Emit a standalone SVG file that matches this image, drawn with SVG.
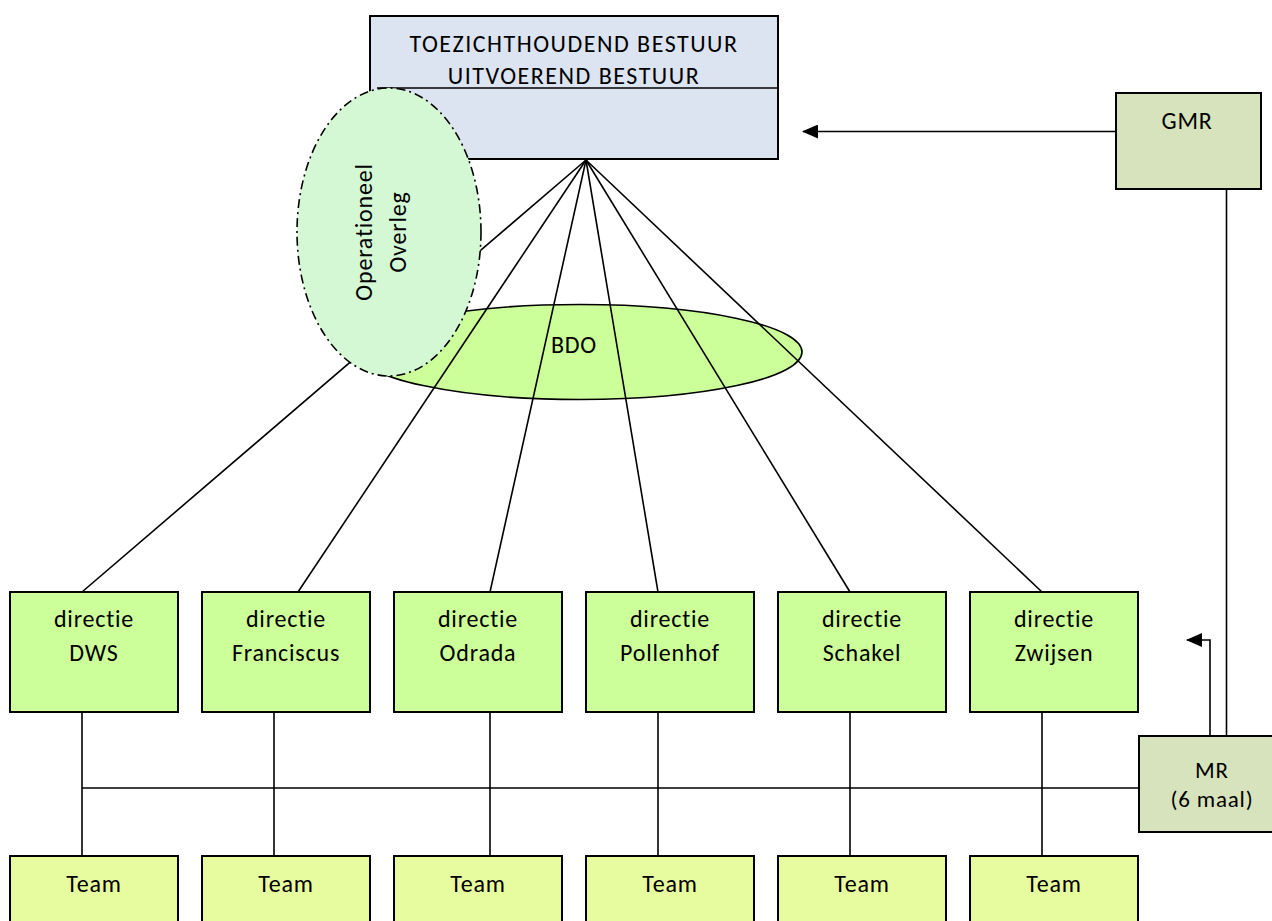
<svg xmlns="http://www.w3.org/2000/svg" width="1272" height="921" viewBox="0 0 1272 921">
<defs>
<style>
text{font-family:Carlito,Lato,"Liberation Sans",sans-serif;font-size:24px;letter-spacing:0.8px;font-variant-ligatures:none;fill:#000;text-anchor:middle}
.title{letter-spacing:1.5px}
.small{font-size:23px}
.box{stroke:#000;stroke-width:2}
.dir{fill:#ccff99}
.team{fill:#e6fc9f}
.mr{fill:#d6e3bc}
.conn{stroke:#000;stroke-width:1.6;fill:none}
</style>
<marker id="arr" viewBox="0 0 16 14" refX="15" refY="7" markerWidth="16" markerHeight="14" markerUnits="userSpaceOnUse" orient="auto">
<path d="M0,0 L16,7 L0,14 z" fill="#000"/>
</marker>
</defs>
<rect width="1272" height="921" fill="#fff"/>

<g id="bestuur">
<rect class="box" x="370" y="16" width="408" height="143" fill="#dbe4f0"/>
<line x1="377" y1="88" x2="778" y2="88" stroke="#000" stroke-width="1.6"/>
<text class="title" x="574" y="52">TOEZICHTHOUDEND BESTUUR</text>
<text class="title" x="574" y="84">UITVOEREND BESTUUR</text>
</g>

<g id="bdo">
<ellipse cx="580" cy="352" rx="222" ry="47.5" fill="#ccff99" stroke="#000" stroke-width="1.6"/>
<text x="574" y="353">BDO</text>
</g>

<g id="connectors">
<line class="conn" x1="586" y1="160" x2="82" y2="592"/>
<line class="conn" x1="586" y1="160" x2="298" y2="592"/>
<line class="conn" x1="586" y1="160" x2="490" y2="592"/>
<line class="conn" x1="586" y1="160" x2="658" y2="592"/>
<line class="conn" x1="586" y1="160" x2="850" y2="592"/>
<line class="conn" x1="586" y1="160" x2="1042" y2="592"/>
<line class="conn" x1="82" y1="712" x2="82" y2="856"/>
<line class="conn" x1="274" y1="712" x2="274" y2="856"/>
<line class="conn" x1="490" y1="712" x2="490" y2="856"/>
<line class="conn" x1="658" y1="712" x2="658" y2="856"/>
<line class="conn" x1="850" y1="712" x2="850" y2="856"/>
<line class="conn" x1="1042" y1="712" x2="1042" y2="856"/>
<line class="conn" x1="82" y1="788" x2="1139" y2="788"/>
<line class="conn" x1="1115" y1="131.5" x2="803" y2="131.5" marker-end="url(#arr)"/>
<line class="conn" x1="1226.5" y1="190" x2="1226.5" y2="736"/>
<polyline class="conn" points="1210,736 1210,640 1187,640" marker-end="url(#arr)"/>
</g>

<g id="operationeel">
<ellipse cx="389" cy="232" rx="92" ry="144" fill="#d4f8d4" stroke="#000" stroke-width="1.6" stroke-dasharray="9,4,2,4"/>
<text transform="translate(372,232) rotate(-90)">Operationeel</text>
<text transform="translate(406,232) rotate(-90)">Overleg</text>
</g>

<g id="gmr">
<rect class="box mr" x="1116" y="93" width="145" height="96"/>
<text x="1187" y="129">GMR</text>
</g>

<g id="mr">
<rect class="box mr" x="1139" y="736" width="140" height="96"/>
<text class="small" x="1212" y="778">MR</text>
<text class="small" x="1212" y="807">(6 maal)</text>
</g>

<g id="dir-dws">
<rect class="box dir" x="10" y="592" width="168" height="120"/>
<text x="94" y="627">directie</text><text x="94" y="661">DWS</text>
</g>
<g id="dir-franciscus">
<rect class="box dir" x="202" y="592" width="168" height="120"/>
<text x="286" y="627">directie</text><text x="286" y="661">Franciscus</text>
</g>
<g id="dir-odrada">
<rect class="box dir" x="394" y="592" width="168" height="120"/>
<text x="478" y="627">directie</text><text x="478" y="661">Odrada</text>
</g>
<g id="dir-pollenhof">
<rect class="box dir" x="586" y="592" width="168" height="120"/>
<text x="670" y="627">directie</text><text x="670" y="661">Pollenhof</text>
</g>
<g id="dir-schakel">
<rect class="box dir" x="778" y="592" width="168" height="120"/>
<text x="862" y="627">directie</text><text x="862" y="661">Schakel</text>
</g>
<g id="dir-zwijsen">
<rect class="box dir" x="970" y="592" width="168" height="120"/>
<text x="1054" y="627">directie</text><text x="1054" y="661">Zwijsen</text>
</g>

<g id="team-dws"><rect class="box team" x="10" y="856" width="168" height="80"/><text x="94" y="892">Team</text></g>
<g id="team-franciscus"><rect class="box team" x="202" y="856" width="168" height="80"/><text x="286" y="892">Team</text></g>
<g id="team-odrada"><rect class="box team" x="394" y="856" width="168" height="80"/><text x="478" y="892">Team</text></g>
<g id="team-pollenhof"><rect class="box team" x="586" y="856" width="168" height="80"/><text x="670" y="892">Team</text></g>
<g id="team-schakel"><rect class="box team" x="778" y="856" width="168" height="80"/><text x="862" y="892">Team</text></g>
<g id="team-zwijsen"><rect class="box team" x="970" y="856" width="168" height="80"/><text x="1054" y="892">Team</text></g>
</svg>
